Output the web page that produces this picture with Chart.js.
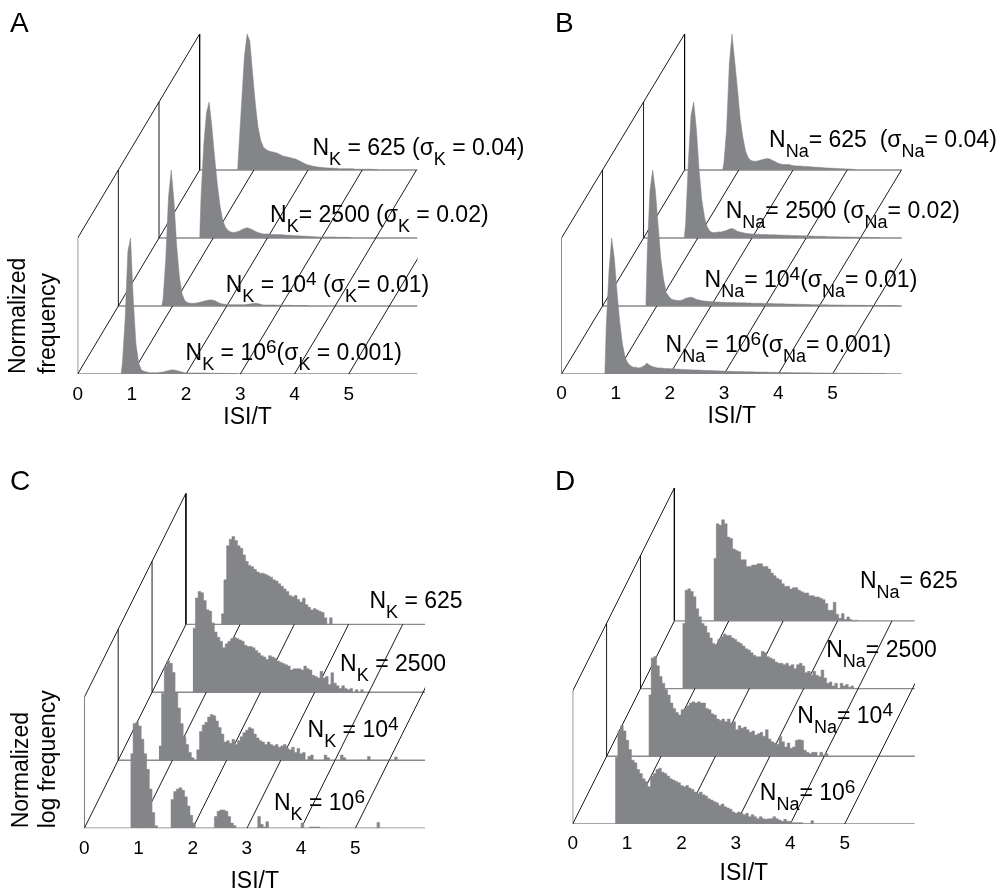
<!DOCTYPE html>
<html>
<head>
<meta charset="utf-8">
<script src="https://cdn.jsdelivr.net/npm/chart.js@4.4.1/dist/chart.umd.min.js"></script>
<style>
	html, body { margin: 0; padding: 0; background: #fff; overflow: hidden; }
	canvas { position: absolute; }
</style>
</head>
<body>
<canvas id="pA" width="540" height="450" style="left:0;top:0"></canvas>
<canvas id="pB" width="503" height="450" style="left:500px;top:0"></canvas>
<canvas id="pC" width="540" height="440" style="left:0;top:460px"></canvas>
<canvas id="pD" width="503" height="440" style="left:500px;top:460px"></canvas>
<script>
const isiTicks = [0, 1, 2, 3, 4, 5];
const binWidth = 0.05;

// rows go front to back: N = 10^6, 10^4, 2500, 625
// A: K channels, normalized frequency
const aStart = [0.80, 0.80, 0.75, 0.70];
const aRow1e6 = [0.08,0.40,0.90,1.00,0.55,0.22,0.08,0.03,0.02,0.015,0.01,0.01,0.01,0.01,0.012,0.015,0.02,0.025,0.03,0.03,0.025,0.02,0.015,0.01,0.008,0.008,0.008,0.008,0.008,0.008,0.008,0.008,0.006,0.006,0.005,0.005,0.005,0.005,0.004,0.004,0.004,0.003,0.003];
const aRow1e4 = [0.05,0.35,0.80,1.00,0.78,0.45,0.22,0.09,0.04,0.025,0.02,0.02,0.02,0.025,0.03,0.035,0.04,0.045,0.045,0.04,0.03,0.02,0.015,0.012,0.01,0.01,0.01,0.01,0.01,0.01,0.01,0.012,0.015,0.018,0.02,0.018,0.012,0.008,0.008,0.008,0.008,0.008,0.006,0.006,0.005,0.005,0.005,0.005,0.004,0.004,0.004,0.003,0.003,0.003];
const aRow2500 = [0.30,0.68,0.92,1.00,0.82,0.60,0.40,0.24,0.13,0.08,0.055,0.045,0.04,0.045,0.05,0.06,0.07,0.075,0.07,0.06,0.05,0.04,0.035,0.03,0.03,0.03,0.028,0.026,0.025,0.025,0.024,0.022,0.02,0.02,0.018,0.017,0.016,0.015,0.014,0.013,0.012,0.011,0.01,0.008,0.008,0.008,0.008,0.008,0.008,0.008,0.005,0.005,0.005,0.005,0.005,0.005];
const aRow625 = [0.17,0.50,0.83,1.00,0.95,0.72,0.50,0.32,0.22,0.17,0.15,0.14,0.135,0.13,0.125,0.115,0.105,0.10,0.095,0.09,0.085,0.08,0.07,0.06,0.05,0.04,0.035,0.03,0.025,0.022,0.02,0.018,0.016,0.015,0.014,0.013,0.012,0.01,0.01,0.01,0.01,0.01,0.01,0.006,0.006,0.006,0.006,0.006,0.006,0.006,0.004,0.004];

// B: Na channels, normalized frequency
const bStart = [0.80, 0.80, 0.75, 0.70];
const bRow1e6 = [0.35,0.75,1.00,0.85,0.60,0.38,0.22,0.12,0.08,0.06,0.05,0.05,0.045,0.05,0.06,0.08,0.065,0.055,0.05,0.045,0.045,0.042,0.04,0.04,0.038,0.037,0.036,0.035,0.034,0.033,0.032,0.031,0.03,0.03,0.029,0.028,0.027,0.026,0.026,0.025,0.024,0.023,0.022,0.022,0.021,0.02,0.02,0.019,0.019,0.018,0.018,0.017,0.017,0.016,0.016,0.015,0.015,0.014,0.014,0.014,0.013,0.013,0.012,0.012,0.012,0.011,0.011,0.011,0.01,0.01,0.01,0.01,0.009,0.009,0.009,0.009,0.008,0.008,0.008,0.008,0.008,0.007,0.007,0.007,0.007,0.007,0.006,0.006,0.006,0.006,0.006,0.006,0.005,0.005,0.005,0.005,0.005,0.005,0.004,0.004,0.004,0.004,0.004,0.004];
const bRow1e4 = [0.40,0.85,1.00,0.85,0.60,0.35,0.20,0.10,0.07,0.05,0.045,0.04,0.04,0.045,0.055,0.06,0.065,0.06,0.05,0.045,0.04,0.037,0.035,0.033,0.031,0.03,0.029,0.028,0.027,0.026,0.026,0.025,0.025,0.024,0.024,0.023,0.023,0.022,0.022,0.021,0.021,0.02,0.02,0.019,0.019,0.018,0.018,0.017,0.017,0.016,0.016,0.015,0.015,0.014,0.014,0.013,0.013,0.012,0.012,0.011,0.011,0.01,0.01,0.01,0.009,0.009,0.009,0.008,0.008,0.008,0.007,0.007,0.007,0.006,0.006,0.006,0.005,0.005,0.005,0.005,0.005,0.004,0.004,0.004,0.004,0.004,0.004,0.004,0.003,0.003,0.003,0.003,0.003];
const bRow2500 = [0.10,0.55,0.90,1.00,0.80,0.50,0.28,0.15,0.08,0.05,0.04,0.04,0.045,0.045,0.05,0.055,0.065,0.07,0.065,0.05,0.045,0.04,0.035,0.033,0.03,0.029,0.028,0.027,0.026,0.026,0.025,0.024,0.024,0.023,0.022,0.022,0.021,0.02,0.02,0.019,0.018,0.018,0.017,0.016,0.016,0.015,0.015,0.014,0.013,0.013,0.012,0.012,0.011,0.01,0.01,0.009,0.009,0.008,0.008,0.008,0.007,0.007,0.006,0.006,0.006,0.005,0.005,0.005,0.004,0.004,0.004,0.004];
const bRow625 = [0.05,0.30,0.78,1.00,0.80,0.60,0.38,0.24,0.14,0.09,0.07,0.065,0.065,0.07,0.075,0.08,0.085,0.08,0.07,0.06,0.05,0.045,0.04,0.04,0.04,0.035,0.032,0.03,0.03,0.028,0.026,0.025,0.024,0.022,0.02,0.02,0.018,0.016,0.015,0.014,0.013,0.012,0.011,0.01,0.01,0.008,0.008,0.006,0.005];

// C: K channels, normalized log frequency
const cStart = [0.85, 0.75, 0.75, 0.65];
const cRow1e6 = [0.57,0.80,0.81,0.78,0.68,0.57,0.45,0.30,0.12,0.02,0,0,0,0,0,0.22,0.28,0.30,0.31,0.29,0.24,0.17,0.10,0.04,0,0,0,0,0,0,0,0.09,0.13,0.14,0.14,0.13,0.09,0.04,0.02,0,0,0,0,0,0,0,0,0.09,0.03,0.01,0.05,0,0,0,0,0,0,0,0,0,0,0,0,0.04,0,0,0.01,0.01,0.01,0.01,0,0,0,0,0,0,0,0,0,0,0,0,0,0,0,0,0,0,0,0,0,0.045];
const cRow1e4 = [0.11,0.51,0.72,0.76,0.74,0.67,0.52,0.40,0.28,0.18,0.12,0.06,0.02,0,0.08,0.22,0.27,0.29,0.33,0.35,0.34,0.30,0.25,0.20,0.14,0.15,0.13,0.16,0.12,0.15,0.18,0.21,0.23,0.25,0.24,0.20,0.17,0.15,0.14,0.12,0.14,0.12,0.11,0.12,0.10,0.11,0.12,0.09,0.08,0.10,0.06,0.09,0.05,0.06,0,0.03,0.04,0,0,0,0,0.04,0.02,0,0,0,0,0.04,0.02,0,0,0,0,0,0,0,0,0.03,0,0,0,0,0,0,0,0,0,0.025];
const cRow2500 = [0.49,0.72,0.77,0.76,0.70,0.63,0.62,0.53,0.46,0.42,0.39,0.34,0.37,0.39,0.41,0.42,0.41,0.40,0.39,0.36,0.35,0.35,0.34,0.32,0.30,0.28,0.27,0.25,0.28,0.27,0.26,0.24,0.23,0.22,0.21,0.20,0.17,0.18,0.18,0.18,0.17,0.20,0.18,0.17,0.13,0.12,0.11,0.16,0.11,0.12,0.06,0.15,0.07,0.05,0.03,0.05,0.03,0.02,0.03,0,0.02,0,0.02];
const cRow625 = [0.08,0.34,0.60,0.65,0.67,0.64,0.60,0.58,0.53,0.48,0.45,0.44,0.42,0.40,0.39,0.39,0.38,0.37,0.36,0.34,0.33,0.31,0.29,0.27,0.25,0.22,0.21,0.22,0.19,0.17,0.20,0.15,0.13,0.11,0.12,0.11,0.10,0.09,0.05,0,0.05];

// D: Na channels, normalized log frequency
const dStart = [0.78, 0.77, 0.77, 0.72];
const dRow1e6 = [0.50,0.70,0.74,0.70,0.63,0.56,0.48,0.46,0.41,0.38,0.34,0.32,0.28,0.36,0.38,0.41,0.42,0.39,0.38,0.36,0.34,0.33,0.32,0.31,0.29,0.28,0.29,0.27,0.26,0.24,0.23,0.24,0.22,0.21,0.19,0.18,0.17,0.16,0.14,0.15,0.13,0.12,0.11,0.09,0.08,0.09,0.08,0.07,0.08,0.055,0.07,0.055,0.04,0.055,0.04,0.035,0.04,0.04,0.055,0.04,0.03,0.02,0.035,0.02,0.02,0.01,0.01,0.01,0.01,0,0,0,0.025];
const dRow1e4 = [0.46,0.74,0.75,0.68,0.60,0.55,0.50,0.46,0.40,0.36,0.33,0.31,0.35,0.36,0.38,0.40,0.41,0.40,0.41,0.40,0.40,0.36,0.35,0.32,0.31,0.28,0.27,0.28,0.26,0.28,0.25,0.26,0.20,0.23,0.21,0.22,0.20,0.18,0.19,0.16,0.17,0.18,0.15,0.20,0.13,0.11,0.10,0.09,0.15,0.11,0.07,0.10,0.06,0.07,0.12,0.125,0.12,0.045,0.03,0.02,0.03,0.03,0,0.03,0.01,0.02];
const dRow2500 = [0.49,0.74,0.75,0.73,0.69,0.60,0.54,0.49,0.47,0.42,0.38,0.34,0.33,0.37,0.39,0.41,0.40,0.40,0.38,0.37,0.35,0.34,0.32,0.30,0.29,0.27,0.25,0.24,0.24,0.28,0.27,0.24,0.23,0.22,0.20,0.19,0.19,0.18,0.19,0.17,0.18,0.15,0.18,0.19,0.17,0.12,0.13,0.10,0.13,0.10,0.09,0.14,0.08,0.04,0.05,0.02,0.04,0,0.04,0.02,0.03,0.01,0.02];
const dRow625 = [0.47,0.73,0.72,0.76,0.73,0.63,0.62,0.54,0.53,0.52,0.46,0.46,0.41,0.41,0.42,0.42,0.43,0.43,0.41,0.41,0.39,0.36,0.34,0.32,0.31,0.28,0.26,0.26,0.24,0.25,0.25,0.23,0.22,0.21,0.21,0.19,0.19,0.18,0.18,0.17,0.16,0.13,0.08,0.08,0.14,0.05,0.02,0.055,0.01,0.03,0.01,0,0.005];

// row labels, front to back; [text, 'sub' | 'sup']
const labelsA = [
	[['N'], ['K', 'sub'], [' = 10'], ['6', 'sup'], ['('], ['σ'], ['K', 'sub'], [' = 0.001)']],
	[['N'], ['K', 'sub'], [' = 10'], ['4', 'sup'], [' ('], ['σ'], ['K', 'sub'], ['= 0.01)']],
	[['N'], ['K', 'sub'], ['= 2500 ('], ['σ'], ['K', 'sub'], [' = 0.02)']],
	[['N'], ['K', 'sub'], [' = 625 ('], ['σ'], ['K', 'sub'], [' = 0.04)']]
];
const labelsB = [
	[['N'], ['Na', 'sub'], ['= 10'], ['6', 'sup'], ['('], ['σ'], ['Na', 'sub'], ['= 0.001)']],
	[['N'], ['Na', 'sub'], ['= 10'], ['4', 'sup'], ['('], ['σ'], ['Na', 'sub'], ['= 0.01)']],
	[['N'], ['Na', 'sub'], ['= 2500 ('], ['σ'], ['Na', 'sub'], ['= 0.02)']],
	[['N'], ['Na', 'sub'], ['= 625  ('], ['σ'], ['Na', 'sub'], ['= 0.04)']]
];
const labelsC = [
	[['N'], ['K', 'sub'], [' = 10'], ['6', 'sup']],
	[['N'], ['K', 'sub'], [' = 10'], ['4', 'sup']],
	[['N'], ['K', 'sub'], [' = 2500']],
	[['N'], ['K', 'sub'], [' = 625']]
];
const labelsD = [
	[['N'], ['Na', 'sub'], ['= 10'], ['6', 'sup']],
	[['N'], ['Na', 'sub'], ['= 10'], ['4', 'sup']],
	[['N'], ['Na', 'sub'], ['= 2500']],
	[['N'], ['Na', 'sub'], ['= 625']]
];

const family = "'Liberation Sans', Arial, sans-serif";
const histCol = "#848589";
const baseCol = "#8a8a8a";

const panels = [
	{ id: "pA", letter: "A", letterPos: [10, 32], rows: [aRow1e6, aRow1e4, aRow2500, aRow625], starts: aStart,
		labels: labelsA, labelPos: [[1.99, 0.103], [2.73, 0.605], [3.55, 1.12], [4.33, 1.61]],
		stepped: false, yTitle: ["Normalized", "frequency"], yTitleLH: 1.3, yTitlePad: 3.4,
		x0: 77.7, ppu: 54.2, xMax: 6.27, base: 374, wall: 136, dx: 0.75, dy: 0.5, tickPad: 1, titlePad: 18.5 },
	{ id: "pB", letter: "B", letterPos: [55, 32], rows: [bRow1e6, bRow1e4, bRow2500, bRow625], starts: bStart,
		labels: labelsB, labelPos: [[1.92, 0.164], [2.64, 0.64], [3.03, 1.145], [3.83, 1.67]],
		stepped: false, yTitle: null,
		x0: 61.5, ppu: 54.2, xMax: 6.28, base: 374, wall: 136, dx: 0.757, dy: 0.5, tickPad: 0, titlePad: 19.5 },
	{ id: "pC", letter: "C", letterPos: [10, 30], rows: [cRow1e6, cRow1e4, cRow2500, cRow625], starts: cStart,
		labels: labelsC, labelPos: [[3.50, 0.14], [4.12, 0.695], [4.72, 1.203], [5.26, 1.68]],
		stepped: true, yTitle: ["Normalized", "log frequency"], yTitleLH: 1.16, yTitlePad: 8.3,
		x0: 84.3, ppu: 54.2, xMax: 6.29, base: 368.3, wall: 131, dx: 0.625, dy: 0.519, tickPad: 1.5, titlePad: 4.5 },
	{ id: "pD", letter: "D", letterPos: [55, 30], rows: [dRow1e6, dRow1e4, dRow2500, dRow625], starts: dStart,
		labels: labelsD, labelPos: [[3.44, 0.18], [4.13, 0.757], [4.66, 1.258], [5.28, 1.772]],
		stepped: true, yTitle: null,
		x0: 72.7, ppu: 54.4, xMax: 6.29, base: 364, wall: 133, dx: 0.623, dy: 0.509, tickPad: 0, titlePad: 12.9 }
];

const lineSet = (pts, color, width) => ({
	data: pts, borderColor: color, borderWidth: width, pointRadius: 0,
	fill: false, tension: 0, order: 10
});

const buildDatasets = (p) => {
	let sets = [];
	let back = p.rows.length - 1;
	// floor lines at each ISI tick
	isiTicks.forEach(t => sets.push(lineSet([{ x: t, y: 0 }, { x: t + back * p.dx, y: back * p.dy }], "#000", 0.9)));
	// row baselines
	p.rows.forEach((_, r) => sets.push(lineSet([{ x: r * p.dx, y: r * p.dy }, { x: p.xMax, y: r * p.dy }], baseCol, 1.4)));
	// back wall
	sets.push(lineSet([{ x: 0, y: 0 }, { x: 0, y: 1 }, { x: back * p.dx, y: 1 + back * p.dy }, { x: back * p.dx, y: back * p.dy }], "#000", 0.9));
	for (let r = 1; r < back; r++) {
		sets.push(lineSet([{ x: r * p.dx, y: r * p.dy }, { x: r * p.dx, y: r * p.dy + 1 }], "#000", 0.9));
	}
	// histograms, back rows drawn first
	p.rows.forEach((vals, r) => {
		let base = r * p.dy;
		let x0 = p.starts[r] + r * p.dx;
		let pts = [];
		if (p.stepped) {
			vals.forEach((v, i) => pts.push({ x: x0 + i * binWidth, y: base + v }));
		} else {
			pts.push({ x: x0, y: base });
			vals.forEach((v, i) => pts.push({ x: x0 + (i + 0.5) * binWidth, y: base + v }));
		}
		pts.push({ x: x0 + vals.length * binWidth, y: base });
		sets.push({
			data: pts, stepped: p.stepped ? "before" : false, fill: { value: base },
			backgroundColor: histCol, borderColor: histCol, borderWidth: 0.5,
			pointRadius: 0, tension: 0, order: r
		});
	});
	return sets;
};

const waterfallText = {
	id: "waterfallText",
	afterDatasetsDraw(chart, args, opts) {
		let p = opts.panel;
		let ctx = chart.ctx;
		let x = chart.scales.x, y = chart.scales.y;
		ctx.save();
		ctx.fillStyle = "#000";
		ctx.textAlign = "left";
		ctx.textBaseline = "alphabetic";
		ctx.font = "28px " + family;
		ctx.fillText(p.letter, p.letterPos[0], p.letterPos[1]);
		p.labels.forEach((parts, r) => {
			let px = x.getPixelForValue(p.labelPos[r][0]);
			let py = y.getPixelForValue(p.labelPos[r][1]);
			parts.forEach(([t, kind]) => {
				let size = kind === "sub" ? 18 : kind === "sup" ? 19 : 23;
				let off = kind === "sub" ? 10 : kind === "sup" ? -7 : 0;
				ctx.font = size + "px " + family;
				ctx.fillText(t, px, py + off);
				px += ctx.measureText(t).width;
			});
		});
		ctx.restore();
	}
};

panels.forEach(p => {
	let canvas = document.getElementById(p.id);
	let W = canvas.width, H = canvas.height;
	let yMax = 1 + (p.rows.length - 1) * p.dy;
	new Chart(canvas, {
		type: "line",
		data: { datasets: buildDatasets(p) },
		options: {
			responsive: false,
			devicePixelRatio: 1,
			animation: false,
			events: [],
			layout: {
				padding: { top: p.base - p.wall * yMax, right: W - (p.x0 + p.xMax * p.ppu), left: 0, bottom: 0 }
			},
			scales: {
				x: {
					type: "linear", min: 0, max: p.xMax,
					afterFit: s => { s.height = H - p.base; },
					afterBuildTicks: s => { s.ticks = isiTicks.map(v => ({ value: v })); },
					grid: { display: false },
					border: { display: false },
					ticks: { color: "#000", font: { family: family, size: 19 }, padding: p.tickPad, maxRotation: 0, autoSkip: false },
					title: { display: true, text: "ISI/T", color: "#000", font: { family: family, size: 23 }, padding: { top: 0, bottom: p.titlePad } }
				},
				y: {
					type: "linear", min: 0, max: yMax,
					afterFit: s => { s.width = p.x0; },
					grid: { display: false },
					border: { display: false },
					ticks: { display: false },
					title: {
						display: !!p.yTitle, text: p.yTitle || "", align: "start", color: "#000",
						font: { family: family, size: 23, lineHeight: p.yTitleLH || 1.2 },
						padding: { top: p.yTitlePad || 0, bottom: 0 }
					}
				}
			},
			plugins: {
				legend: { display: false },
				tooltip: { enabled: false },
				waterfallText: { panel: p }
			}
		},
		plugins: [waterfallText]
	});
});
</script>
</body>
</html>
